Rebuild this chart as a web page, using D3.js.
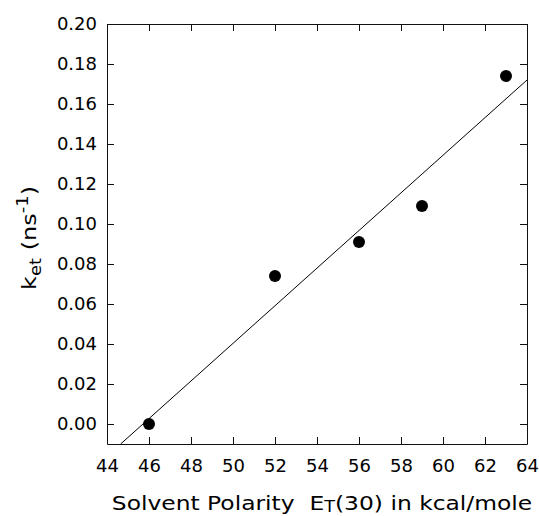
<!DOCTYPE html>
<meta charset="utf-8">
<head>
    <script type="text/javascript" src="https://d3js.org/d3.v7.min.js"></script>
    <style>
        body { margin: 0; background: white; }
        text { font-family: "DejaVu Sans", sans-serif; fill: black; }
    </style>
    <title></title>
</head>
<body>
<script>

    var width = 539
    var height = 516

    // solvent polarity vs electron transfer rate
    var polarity = [46, 52, 56, 59, 63]
    var ket = [0.000, 0.074, 0.091, 0.109, 0.174]
    // linear fit drawn through the points (ends of the line)
    var fitX = [44.65, 64]
    var fitY = [-0.010, 0.172]
    var xTicks = [44, 46, 48, 50, 52, 54, 56, 58, 60, 62, 64]
    var yTicks = [0.00, 0.02, 0.04, 0.06, 0.08, 0.10, 0.12, 0.14, 0.16, 0.18, 0.20]

    var margin = {left: 107, right: 12, top: 24, bottom: 72}

    var svg = d3.select("body").append("svg")
        .attr("width", width)
        .attr("height", height)

    var x = d3.scaleLinear().domain([44, 64]).range([margin.left, width - margin.right])
    var y = d3.scaleLinear().domain([-0.01, 0.20]).range([height - margin.bottom, margin.top])

    var fmt = d3.format(".2f")

    // axes, ticks pointing inward
    svg.append("g")
        .attr("transform", "translate(0," + y(-0.01) + ")")
        .call(d3.axisBottom(x).tickValues(xTicks).tickSize(-7).tickPadding(15).tickSizeOuter(0))
    svg.append("g")
        .attr("transform", "translate(0," + y(0.20) + ")")
        .call(d3.axisTop(x).tickValues(xTicks).tickSize(-7).tickFormat("").tickSizeOuter(0))
    svg.append("g")
        .attr("transform", "translate(" + x(44) + ",0)")
        .call(d3.axisLeft(y).tickValues(yTicks).tickSize(-7).tickPadding(10).tickFormat(fmt).tickSizeOuter(0))
    svg.append("g")
        .attr("transform", "translate(" + x(64) + ",0)")
        .call(d3.axisRight(y).tickValues(yTicks).tickSize(-7).tickFormat("").tickSizeOuter(0))

    svg.selectAll(".tick text").style("font-size", "18px").style("font-family", "DejaVu Sans")
    svg.selectAll(".domain, .tick line").attr("stroke", "#111")

    // fit line
    var line = d3.line().x(d => x(d[0])).y(d => y(d[1]))
    svg.append("path")
        .datum(d3.zip(fitX, fitY))
        .attr("d", line)
        .attr("fill", "none")
        .attr("stroke", "black")
        .attr("stroke-width", 1)

    // data points
    svg.selectAll("circle.pt")
        .data(d3.zip(polarity, ket))
        .enter()
        .append("circle")
        .attr("class", "pt")
        .attr("cx", d => x(d[0]))
        .attr("cy", d => y(d[1]))
        .attr("r", 6)
        .attr("fill", "black")

    // x title (source font is a bit wider, so stretch horizontally)
    var xt = svg.append("text")
        .attr("transform", "translate(322,510) scale(1.17,1)")
        .attr("text-anchor", "middle")
        .style("font-size", "20px")
    xt.append("tspan").text("Solvent Polarity\u00a0\u00a0E")
    xt.append("tspan").attr("dy", 2).style("font-size", "15px").text("T")
    xt.append("tspan").attr("dy", -2).text("(30) in kcal/mole")

    // y title
    var yt = svg.append("text")
        .attr("transform", "translate(36,238) rotate(-90) scale(1.2,1)")
        .attr("text-anchor", "middle")
        .style("font-size", "20px")
    yt.append("tspan").text("k")
    yt.append("tspan").attr("dy", 5).style("font-size", "15px").text("et")
    yt.append("tspan").attr("dy", -5).text(" (ns")
    yt.append("tspan").attr("dy", -8).style("font-size", "15px").text("-1")
    yt.append("tspan").attr("dy", 8).text(")")

</script>
</body>
</html>
